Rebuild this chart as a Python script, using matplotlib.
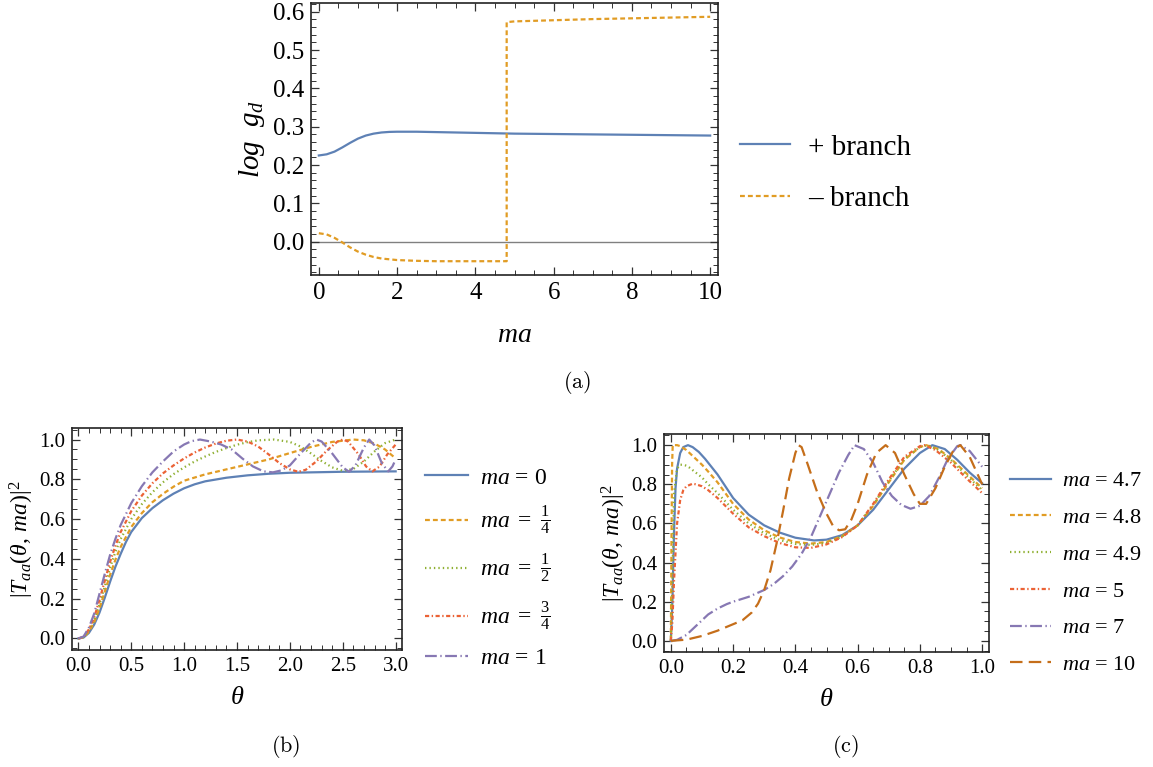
import matplotlib
matplotlib.use('Agg')
import matplotlib.pyplot as plt
from matplotlib.ticker import MultipleLocator, FormatStrFormatter

plt.rcParams['font.family'] = ['Liberation Serif', 'DejaVu Serif']
plt.rcParams['mathtext.fontset'] = 'custom'
plt.rcParams['mathtext.rm'] = 'Liberation Serif'
plt.rcParams['mathtext.it'] = 'Liberation Serif:italic'
plt.rcParams['mathtext.bf'] = 'Liberation Serif:bold'
plt.rcParams['lines.scale_dashes'] = False

# Mathematica default palette
C1, C2, C3, C4, C5, C6 = '#5E81B5', '#E19C24', '#8FB032', '#EB6235', '#8778B3', '#C56E1A'

# ---- (a) log g_d vs ma
ma_plus = [0, 0.2, 0.4, 0.6, 0.8, 1.0, 1.2, 1.4, 1.6, 1.8, 2.0, 2.5, 3.0, 4.0, 5.0, 6.0, 7.0,
           8.0, 9.0, 10.0]
logg_plus = [0.225, 0.228, 0.235, 0.246, 0.258, 0.269, 0.277, 0.282, 0.285, 0.2865, 0.287, 0.287,
             0.286, 0.284, 0.282, 0.281, 0.28, 0.279, 0.278, 0.277]
ma_minus = [0, 0.2, 0.4, 0.6, 0.8, 1.0, 1.2, 1.4, 1.6, 1.8, 2.0, 2.5, 3.0, 4.0, 4.8, 4.8, 5.0,
            6.0, 7.0, 8.0, 9.0, 10.0]
logg_minus = [0.022, 0.019, 0.01, -0.002, -0.015, -0.026, -0.034, -0.04, -0.044, -0.046, -0.048,
              -0.05, -0.051, -0.051, -0.051, 0.573, 0.575, 0.578, 0.581, 0.583, 0.585, 0.587]

# ---- (b) |T_aa|^2 for small ma
th_b0 = [0, 0.05, 0.1, 0.15, 0.2, 0.25, 0.3, 0.35, 0.4, 0.45, 0.5, 0.6, 0.7, 0.8, 0.9, 1.0, 1.1,
         1.2, 1.4, 1.6, 1.8, 2.0, 2.5, 3.0]
T_b0 = [0, 0.005, 0.028, 0.07, 0.13, 0.205, 0.285, 0.36, 0.425, 0.485, 0.535, 0.605, 0.655, 0.695,
        0.728, 0.755, 0.775, 0.79, 0.808, 0.82, 0.828, 0.833, 0.838, 0.84]
th_b1 = [0, 0.05, 0.1, 0.15, 0.2, 0.25, 0.3, 0.35, 0.4, 0.5, 0.6, 0.7, 0.8, 0.9, 1.0, 1.2, 1.4,
         1.6, 1.8, 2.0, 2.2, 2.4, 2.6, 2.7, 2.8, 2.9, 3.0]
T_b1 = [0, 0.006, 0.034, 0.082, 0.152, 0.235, 0.32, 0.395, 0.46, 0.56, 0.63, 0.685, 0.727, 0.763,
        0.793, 0.825, 0.85, 0.875, 0.9, 0.932, 0.963, 0.988, 1.0, 0.996, 0.98, 0.95, 0.905]
th_b2 = [0, 0.05, 0.1, 0.15, 0.2, 0.25, 0.3, 0.35, 0.4, 0.5, 0.6, 0.7, 0.8, 0.9, 1.0, 1.1, 1.2,
         1.3, 1.4, 1.5, 1.6, 1.7, 1.85, 2.0, 2.1, 2.2, 2.3, 2.4, 2.5, 2.6, 2.7, 2.8, 2.9, 3.0]
T_b2 = [0, 0.007, 0.04, 0.094, 0.172, 0.262, 0.355, 0.435, 0.5, 0.6, 0.675, 0.735, 0.785, 0.826,
        0.86, 0.89, 0.915, 0.938, 0.957, 0.974, 0.987, 0.996, 1.0, 0.988, 0.965, 0.93, 0.892, 0.86,
        0.843, 0.852, 0.89, 0.94, 0.982, 1.0]
th_b3 = [0, 0.05, 0.1, 0.15, 0.2, 0.25, 0.3, 0.35, 0.4, 0.5, 0.6, 0.7, 0.8, 0.9, 1.0, 1.1, 1.2,
         1.3, 1.4, 1.5, 1.6, 1.7, 1.8, 1.9, 2.0, 2.08, 2.15, 2.25, 2.35, 2.45, 2.5, 2.55, 2.65, 2.72,
         2.78, 2.85, 2.92, 3.0]
T_b3 = [0, 0.008, 0.046, 0.106, 0.194, 0.29, 0.385, 0.465, 0.535, 0.64, 0.718, 0.78, 0.83, 0.87,
        0.905, 0.935, 0.96, 0.98, 0.994, 1.0, 0.99, 0.965, 0.925, 0.882, 0.85, 0.838, 0.848, 0.89,
        0.945, 0.99, 1.0, 0.99, 0.925, 0.865, 0.84, 0.865, 0.925, 0.975]
th_b4 = [0, 0.05, 0.1, 0.15, 0.2, 0.25, 0.3, 0.35, 0.4, 0.5, 0.6, 0.7, 0.8, 0.9, 1.0, 1.07, 1.15,
         1.25, 1.35, 1.45, 1.55, 1.65, 1.75, 1.84, 1.92, 2.0, 2.1, 2.2, 2.25, 2.3, 2.4, 2.5, 2.56,
         2.62, 2.7, 2.75, 2.8, 2.87, 2.93, 2.97, 3.0]
T_b4 = [0, 0.01, 0.055, 0.125, 0.225, 0.325, 0.42, 0.5, 0.57, 0.68, 0.765, 0.835, 0.89, 0.94,
        0.975, 0.992, 1.0, 0.99, 0.975, 0.95, 0.905, 0.865, 0.84, 0.835, 0.845, 0.87, 0.93, 0.985,
        1.0, 0.99, 0.93, 0.86, 0.838, 0.87, 0.96, 1.0, 0.97, 0.88, 0.84, 0.865, 0.9]
labels_b = [r'$ma$ = 0', r'$ma\ =\ \frac{1}{4}$', r'$ma\ =\ \frac{1}{2}$',
            r'$ma\ =\ \frac{3}{4}$', r'$ma$ = 1']

# ---- (c) |T_aa|^2 for larger ma
th_c47 = [0, 0.005, 0.01, 0.015, 0.02, 0.03, 0.04, 0.055, 0.07, 0.09, 0.11, 0.13, 0.15, 0.2, 0.25,
          0.3, 0.35, 0.4, 0.46, 0.5, 0.55, 0.6, 0.65, 0.7, 0.75, 0.8, 0.84, 0.88, 0.92, 0.96, 1.0]
T_c47 = [0, 0.2, 0.55, 0.78, 0.88, 0.96, 0.99, 1.0, 0.99, 0.965, 0.93, 0.89, 0.85, 0.73, 0.645,
         0.59, 0.553, 0.527, 0.513, 0.517, 0.54, 0.59, 0.67, 0.775, 0.88, 0.96, 1.0, 0.98, 0.925,
         0.86, 0.805]
th_c48 = [0, 0.002, 0.004, 0.006, 0.02, 0.03, 0.04, 0.05, 0.06, 0.08, 0.1, 0.12, 0.15, 0.2, 0.25,
          0.3, 0.35, 0.4, 0.45, 0.5, 0.55, 0.6, 0.65, 0.7, 0.75, 0.8, 0.82, 0.86, 0.9, 0.95, 1.0]
T_c48 = [0, 0.5, 0.9, 1.0, 1.0, 0.995, 0.985, 0.975, 0.96, 0.93, 0.9, 0.865, 0.81, 0.7, 0.62,
         0.565, 0.528, 0.505, 0.497, 0.505, 0.535, 0.59, 0.69, 0.81, 0.925, 0.99, 1.0, 0.98, 0.93,
         0.855, 0.78]
th_c49 = [0, 0.005, 0.01, 0.02, 0.03, 0.04, 0.05, 0.06, 0.08, 0.1, 0.12, 0.15, 0.2, 0.25, 0.3,
          0.35, 0.4, 0.45, 0.5, 0.55, 0.6, 0.65, 0.7, 0.75, 0.8, 0.825, 0.86, 0.9, 0.95, 1.0]
T_c49 = [0, 0.3, 0.75, 0.88, 0.9, 0.9, 0.895, 0.885, 0.86, 0.835, 0.8, 0.755, 0.67, 0.6, 0.55,
         0.515, 0.495, 0.49, 0.5, 0.533, 0.59, 0.695, 0.815, 0.93, 0.99, 1.0, 0.975, 0.925, 0.845,
         0.77]
th_c5 = [0, 0.005, 0.01, 0.02, 0.03, 0.04, 0.05, 0.07, 0.08, 0.1, 0.12, 0.15, 0.2, 0.25, 0.3,
         0.35, 0.4, 0.45, 0.5, 0.55, 0.6, 0.65, 0.7, 0.75, 0.8, 0.815, 0.85, 0.9, 0.95, 1.0]
T_c5 = [0, 0.1, 0.3, 0.6, 0.72, 0.77, 0.79, 0.803, 0.8, 0.79, 0.77, 0.73, 0.65, 0.58, 0.535, 0.5,
        0.478, 0.475, 0.493, 0.53, 0.59, 0.7, 0.825, 0.94, 0.995, 1.0, 0.975, 0.91, 0.83, 0.755]
th_c7 = [0, 0.02, 0.05, 0.08, 0.1, 0.12, 0.15, 0.18, 0.2, 0.25, 0.3, 0.33, 0.36, 0.39, 0.42, 0.45,
         0.48, 0.51, 0.54, 0.57, 0.59, 0.62, 0.65, 0.68, 0.71, 0.74, 0.77, 0.8, 0.83, 0.86, 0.89,
         0.92, 0.93, 0.96, 1.0]
T_c7 = [0, 0.005, 0.03, 0.075, 0.105, 0.135, 0.165, 0.188, 0.2, 0.225, 0.26, 0.29, 0.33, 0.38,
        0.445, 0.53, 0.64, 0.75, 0.86, 0.95, 1.0, 0.98, 0.91, 0.81, 0.74, 0.695, 0.675, 0.69, 0.74,
        0.83, 0.93, 0.995, 1.0, 0.97, 0.89]
th_c10 = [0, 0.05, 0.1, 0.15, 0.2, 0.23, 0.26, 0.28, 0.3, 0.32, 0.34, 0.36, 0.38, 0.4, 0.41, 0.42,
          0.44, 0.47, 0.5, 0.52, 0.54, 0.56, 0.58, 0.6, 0.63, 0.66, 0.69, 0.72, 0.75, 0.78, 0.8,
          0.82, 0.85, 0.88, 0.91, 0.93, 0.96, 1.0]
T_c10 = [0, 0.006, 0.025, 0.052, 0.085, 0.105, 0.145, 0.19, 0.26, 0.36, 0.5, 0.66, 0.83, 0.96,
         1.0, 0.99, 0.9, 0.76, 0.65, 0.59, 0.565, 0.57, 0.62, 0.7, 0.85, 0.96, 1.0, 0.96, 0.85,
         0.75, 0.7, 0.7, 0.78, 0.89, 0.98, 1.0, 0.94, 0.8]
labels_c = [r'$ma$ = 4.7', r'$ma$ = 4.8', r'$ma$ = 4.9', r'$ma$ = 5', r'$ma$ = 7', r'$ma$ = 10']

W, H = 1153, 767
LW = 1.6
styles = [
    dict(color=C1, ls='-'),
    dict(color=C2, dashes=(3.5, 2.2)),
    dict(color=C3, dashes=(1.0, 2.2)),
    dict(color=C4, dashes=(3.0, 1.8, 1.0, 1.8)),
    dict(color=C5, dashes=(8.5, 2.5, 1.0, 2.5)),
    dict(color=C6, dashes=(9.0, 4.5)),
]


def add_axes(fig, left, top, right, bottom):
    # pixel box -> figure fractions
    return fig.add_axes([left / W, 1 - bottom / H, (right - left) / W, (bottom - top) / H])


def style_frame(ax, xmaj, xmin, ymaj, ymin, xfmt, yfmt, size):
    ax.xaxis.set_major_locator(MultipleLocator(xmaj))
    ax.xaxis.set_minor_locator(MultipleLocator(xmin))
    ax.yaxis.set_major_locator(MultipleLocator(ymaj))
    ax.yaxis.set_minor_locator(MultipleLocator(ymin))
    ax.xaxis.set_major_formatter(FormatStrFormatter(xfmt))
    ax.yaxis.set_major_formatter(FormatStrFormatter(yfmt))
    ax.tick_params(which='both', direction='in', top=True, right=True, labelsize=size,
                   color='#333333', pad=5)
    ax.tick_params(which='major', length=6, width=0.9)
    ax.tick_params(which='minor', length=3.5, width=0.7)
    for s in ax.spines.values():
        s.set_linewidth(1.2)
        s.set_color('#222222')


fig = plt.figure(figsize=(W / 100, H / 100), dpi=100)

# ---------------- panel (a)
axa = add_axes(fig, 311, 3, 718, 275)
axa.axhline(0, color='#808080', lw=1.0, zorder=1)
axa.plot(ma_plus, logg_plus, lw=LW, **styles[0], label='+ branch')
axa.plot(ma_minus, logg_minus, lw=LW, **styles[1], label='\u2013 branch')
axa.set_xlim(-0.2, 10.2)
axa.set_ylim(-0.087, 0.623)
style_frame(axa, 2, 0.5, 0.1, 0.02, '%d', '%.1f', 18)
axa.set_xlabel(r'$ma$', fontsize=20, labelpad=14)
axa.set_ylabel(r'$log\ \ g_d$', fontsize=21, labelpad=4)
axa.legend(loc='center left', bbox_to_anchor=(740 / W, 1 - 173 / H), bbox_transform=fig.transFigure,
           frameon=False, fontsize=21, handlelength=1.7, handletextpad=0.62, labelspacing=0.85,
           borderpad=0, borderaxespad=0)
fig.text(577 / W, 1 - 382 / H, r'$\mathrm{(a)}$', math_fontfamily='cm', fontsize=16,
         ha='center', va='center')

# ---------------- panel (b)
axb = add_axes(fig, 72, 428, 402, 650)
curves_b = [(th_b0, T_b0), (th_b1, T_b1), (th_b2, T_b2), (th_b3, T_b3), (th_b4, T_b4)]
for (th, T), st, lab in zip(curves_b, styles, labels_b):
    axb.plot(th, T, lw=LW, label=lab, **st)
axb.set_xlim(-0.06, 3.06)
axb.set_ylim(-0.058, 1.058)
style_frame(axb, 0.5, 0.1, 0.2, 0.05, '%.1f', '%.1f', 15)
axb.set_xlabel(r'$\theta$', fontsize=19, labelpad=8)
axb.set_ylabel(r'$|T_{aa}(\theta,\,ma)|^2$', fontsize=17, labelpad=2)
axb.legend(loc='center left', bbox_to_anchor=(425 / W, 1 - 568 / H), bbox_transform=fig.transFigure,
           frameon=False, fontsize=17, handlelength=1.82, handletextpad=0.5, labelspacing=0.62,
           borderpad=0, borderaxespad=0)
fig.text(286 / W, 1 - 746 / H, r'$\mathrm{(b)}$', math_fontfamily='cm', fontsize=16,
         ha='center', va='center')

# ---------------- panel (c)
axc = add_axes(fig, 664, 434, 989, 652)
curves_c = [(th_c47, T_c47), (th_c48, T_c48), (th_c49, T_c49), (th_c5, T_c5), (th_c7, T_c7),
            (th_c10, T_c10)]
for (th, T), st, lab in zip(curves_c, styles, labels_c):
    axc.plot(th, T, lw=LW, label=lab, **st)
axc.set_xlim(-0.022, 1.022)
axc.set_ylim(-0.057, 1.057)
style_frame(axc, 0.2, 0.05, 0.2, 0.05, '%.1f', '%.1f', 15)
axc.set_xlabel(r'$\theta$', fontsize=19, labelpad=8)
axc.set_ylabel(r'$|T_{aa}(\theta,\,ma)|^2$', fontsize=17, labelpad=2)
axc.legend(loc='center left', bbox_to_anchor=(1010 / W, 1 - 573 / H), bbox_transform=fig.transFigure,
           frameon=False, fontsize=16, handlelength=1.85, handletextpad=0.5, labelspacing=0.73,
           borderpad=0, borderaxespad=0)
fig.text(845 / W, 1 - 746 / H, r'$\mathrm{(c)}$', math_fontfamily='cm', fontsize=16,
         ha='center', va='center')

fig.savefig('out.png', dpi=100)
